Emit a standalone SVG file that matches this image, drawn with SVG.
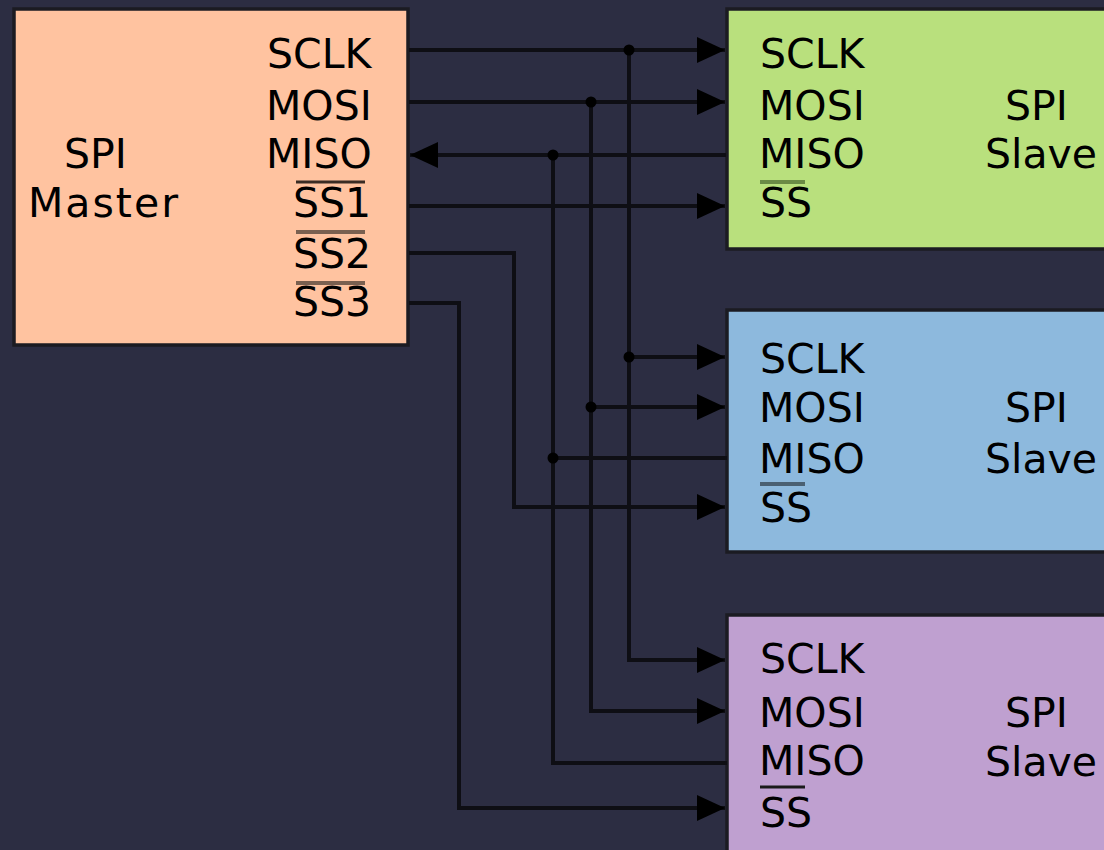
<svg xmlns="http://www.w3.org/2000/svg" width="1104" height="850" viewBox="0 0 1104 850">
<style>
.box{stroke:#1b1b22;stroke-width:3.5}
.t{font-family:"DejaVu Sans","Bitstream Vera Sans",sans-serif;font-size:41px;fill:#000}
.w{fill:none;stroke:#0e0e14;stroke-width:4}
.dot{fill:#000}
</style>
<defs>
<marker id="arr" markerUnits="userSpaceOnUse" markerWidth="30" markerHeight="30" refX="28" refY="13" orient="auto">
<path d="M0,0 L28,13 L0,26 Z" fill="#000"/>
</marker>
</defs>
<rect width="1104" height="850" fill="#2c2d42"/>

<g id="master">
<rect class="box" x="14" y="9" width="394" height="336" fill="#ffc3a0"/>
<text class="t" x="64" y="168">SPI</text>
<text class="t" x="28" y="217" textLength="150" lengthAdjust="spacing">Master</text>
<text class="t" x="267" y="68">SCLK</text>
<text class="t" x="266" y="120">MOSI</text>
<text class="t" x="266" y="168">MISO</text>
<text class="t" x="293" y="217">SS1</text>
<text class="t" x="293" y="268">SS2</text>
<text class="t" x="293" y="316">SS3</text>
<line x1="296" y1="182" x2="365" y2="182" stroke="#3a2c24" stroke-width="3"/>
<line x1="296" y1="232" x2="365" y2="232" stroke="#7a6050" stroke-width="4"/>
<line x1="296" y1="283" x2="365" y2="283" stroke="#7a6050" stroke-width="4"/>
</g>

<g id="slave1">
<rect class="box" x="727" y="9" width="400" height="240" fill="#b9e07d"/>
<text class="t" x="760" y="68">SCLK</text>
<text class="t" x="759" y="120">MOSI</text>
<text class="t" x="759" y="168">MISO</text>
<text class="t" x="760" y="217">SS</text>
<line x1="760" y1="182" x2="805" y2="182" stroke="#6a8a45" stroke-width="4"/>
<text class="t" x="1005" y="120">SPI</text>
<text class="t" x="985" y="168">Slave</text>
</g>

<g id="slave2">
<rect class="box" x="727" y="310" width="400" height="242" fill="#8db9dd"/>
<text class="t" x="760" y="373">SCLK</text>
<text class="t" x="759" y="422">MOSI</text>
<text class="t" x="759" y="473">MISO</text>
<text class="t" x="760" y="522">SS</text>
<line x1="760" y1="484" x2="805" y2="484" stroke="#4a6072" stroke-width="4"/>
<text class="t" x="1005" y="422">SPI</text>
<text class="t" x="985" y="473">Slave</text>
</g>

<g id="slave3">
<rect class="box" x="727" y="615" width="400" height="260" fill="#bfa0d0"/>
<text class="t" x="760" y="673">SCLK</text>
<text class="t" x="759" y="727">MOSI</text>
<text class="t" x="759" y="775">MISO</text>
<text class="t" x="760" y="827">SS</text>
<line x1="760" y1="787" x2="805" y2="787" stroke="#1a1a1a" stroke-width="3"/>
<text class="t" x="1005" y="727">SPI</text>
<text class="t" x="985" y="776">Slave</text>
</g>

<g id="connectors">
<path class="w" d="M409,50 H725" marker-end="url(#arr)"/>
<path class="w" d="M409,102 H725" marker-end="url(#arr)"/>
<path class="w" d="M726,155 H410" marker-end="url(#arr)"/>
<path class="w" d="M409,206 H725" marker-end="url(#arr)"/>
<path class="w" d="M409,253 H514 V507 H725" marker-end="url(#arr)"/>
<path class="w" d="M409,303 H459 V808 H725" marker-end="url(#arr)"/>
<path class="w" d="M629,50 V660 H725" marker-end="url(#arr)"/>
<path class="w" d="M591,102 V711 H725" marker-end="url(#arr)"/>
<path class="w" d="M553,155 V763 H727"/>
<path class="w" d="M629,357 H725" marker-end="url(#arr)"/>
<path class="w" d="M591,407 H725" marker-end="url(#arr)"/>
<path class="w" d="M553,458 H727"/>
<circle class="dot" cx="629" cy="50" r="5.5"/>
<circle class="dot" cx="591" cy="102" r="5.5"/>
<circle class="dot" cx="553" cy="155" r="5.5"/>
<circle class="dot" cx="629" cy="357" r="5.5"/>
<circle class="dot" cx="591" cy="407" r="5.5"/>
<circle class="dot" cx="553" cy="458" r="5.5"/>
</g>
</svg>
